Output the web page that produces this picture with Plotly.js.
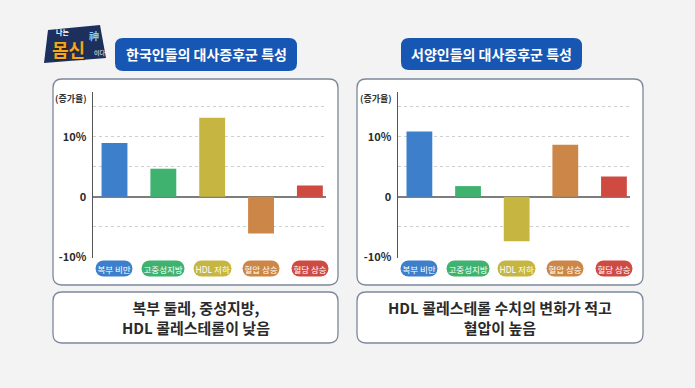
<!DOCTYPE html>
<html><head><meta charset="utf-8">
<script src="https://cdn.plot.ly/plotly-3.0.1.min.js"></script>
<style>html,body{margin:0;padding:0;background:#f3f3f3}</style>
</head><body><div id="chart" style="width:695px;height:388px"></div>
<script>
// ---- data ----
const categories = ['복부 비만', '고중성지방', 'HDL 저하', '혈압 상승', '혈당 상승'];
const koreanValues = [9.0, 4.7, 13.2, -6.1, 1.9];
const westernValues = [10.9, 1.8, -7.4, 8.7, 3.4];
const barColors = ['#3d7fcb', '#3fb26f', '#c6b540', '#cc8647', '#cf4b42'];
const yTickVals = [-10, 0, 10];
const yTickText = ['-10%', '0', '10%'];
const gridVals = [-5, 5, 10, 15];
const panelTitles = ['한국인들의 대사증후군 특성', '서양인들의 대사증후군 특성'];
const panelNotes = ['복부 둘레, 중성지방,<br>HDL 콜레스테롤이 낮음', 'HDL 콜레스테롤 수치의 변화가 적고<br>혈압이 높음'];
const yUnitLabel = '(증가율)';

// ---- layout helpers ----
const W = 695, H = 388;
const FONT = '"Noto Sans CJK KR", "Noto Sans", sans-serif';
const X = p => p / W, Y = p => 1 - p / H;
function rr(x0, y0, x1, y1, r) {
  return `M${X(x0 + r)},${Y(y0)} L${X(x1 - r)},${Y(y0)} Q${X(x1)},${Y(y0)} ${X(x1)},${Y(y0 + r)} ` +
    `L${X(x1)},${Y(y1 - r)} Q${X(x1)},${Y(y1)} ${X(x1 - r)},${Y(y1)} L${X(x0 + r)},${Y(y1)} ` +
    `Q${X(x0)},${Y(y1)} ${X(x0)},${Y(y1 - r)} L${X(x0)},${Y(y0 + r)} Q${X(x0)},${Y(y0)} ${X(x0 + r)},${Y(y0)} Z`;
}
function boxShape(x0, y0, x1, y1, r, fill, line, lw) {
  return { type: 'path', xref: 'paper', yref: 'paper', layer: 'below', path: rr(x0, y0, x1, y1, r),
    fillcolor: fill, line: { color: line, width: lw } };
}
function logoText(px, py, text, size, color, extra) {
  return Object.assign({ xref: 'paper', yref: 'paper', x: X(px), y: Y(py), xanchor: 'center', yanchor: 'middle',
    text, showarrow: false, borderpad: 0, font: { family: FONT, size, color } }, extra || {});
}

const panels = [
  { box: [53, 79, 338, 285], note: [53, 292, 338, 343], title: [115, 38, 297, 71], dom: [93, 326], vals: koreanValues, xa: 'x', ya: 'y' },
  { box: [357, 79, 643, 285], note: [357, 292, 643, 343], title: [401, 38, 582, 70], dom: [398, 630], vals: westernValues, xa: 'x2', ya: 'y2' }
];
const yDom = [Y(258), Y(92)];

const traces = panels.map(p => ({
  type: 'bar', x: categories, y: p.vals, xaxis: p.xa, yaxis: p.ya,
  marker: { color: barColors, line: { width: 0 } }, hoverinfo: 'skip', showlegend: false
}));

const shapes = [];
const annotations = [];
panels.forEach((p, i) => {
  shapes.push(boxShape(...p.box, 9, '#ffffff', '#7c889c', 1.3));
  shapes.push(boxShape(...p.note, 9, '#ffffff', '#7c889c', 1.3));
  shapes.push(boxShape(...p.title, 8, '#1856b3', 'rgba(0,0,0,0)', 0));
  annotations.push({ xref: 'paper', yref: 'paper', x: X((p.title[0] + p.title[2]) / 2), y: Y((p.title[1] + p.title[3]) / 2),
    text: '<b>' + panelTitles[i] + '</b>', showarrow: false, xanchor: 'center', yanchor: 'middle',
    font: { family: FONT, size: 14, color: '#ffffff' } });
  annotations.push({ xref: 'paper', yref: 'paper', x: X((p.note[0] + p.note[2]) / 2), y: Y((p.note[1] + p.note[3]) / 2),
    text: '<b>' + panelNotes[i] + '</b>', showarrow: false, xanchor: 'center', yanchor: 'middle', align: 'center',
    font: { family: FONT, size: 15, color: '#2a2a2a' } });
  const xd = p.xa === 'x' ? 'x domain' : 'x2 domain';
  const yd = p.ya === 'y' ? 'y domain' : 'y2 domain';
  annotations.push({ xref: xd, yref: yd, x: 0, y: 1, xanchor: 'right', yanchor: 'middle', xshift: -4, yshift: -6,
    text: yUnitLabel, showarrow: false, font: { family: FONT, size: 9, color: '#333', weight: 'bold' } });
  categories.forEach((c, k) => {
    annotations.push({ xref: p.xa, yref: yd, x: c, y: 0, yshift: -10, xanchor: 'center', yanchor: 'middle',
      text: c, showarrow: false, bgcolor: barColors[k], borderpad: 1.5,
      font: { family: FONT, size: 8.5, color: '#ffffff' }, name: 'pill' });
  });
});

// logo
shapes.push({ type: 'path', xref: 'paper', yref: 'paper', layer: 'below',
  path: `M${X(48)},${Y(30)} L${X(100)},${Y(25)} L${X(106)},${Y(58)} L${X(44)},${Y(63)} Z`,
  fillcolor: '#1d2f5c', line: { width: 0 } });
annotations.push(logoText(68, 49, '<b>몸신</b>', 18, '#f2a623', { font: { family: FONT, size: 18, color: '#f2a623', shadow: '1px 1px 1px #3a2000' } }));
annotations.push(logoText(62, 32, '<b>나는</b>', 7, '#ffffff'));
annotations.push(logoText(94, 35, '<b>神</b>', 10, '#7fd0ff'));
annotations.push(logoText(100, 53, '이다', 6, '#ffffff'));

function xAxis(i) {
  return { domain: [X(panels[i].dom[0]), X(panels[i].dom[1])], anchor: i ? 'y2' : 'y', type: 'category',
    range: [-0.44, 4.33], showticklabels: false, showgrid: false, zeroline: false, showline: false, ticks: '', fixedrange: true };
}
function yAxis(i) {
  return { domain: yDom, anchor: i ? 'x2' : 'x', range: [-10.2, 17.5], tickvals: yTickVals, ticktext: yTickText,
    showgrid: false, zeroline: true, zerolinecolor: '#7d7d7d', zerolinewidth: 1.5,
    showline: true, linecolor: '#555', linewidth: 1.5, ticks: '', ticklabelstandoff: 3,
    tickfont: { family: FONT, size: 11, color: '#2a2a2a', weight: 'bold' },
    minor: { tickvals: gridVals, showgrid: true, gridcolor: '#cfcfcf', griddash: '3px,3px', gridwidth: 1, ticks: '' },
    fixedrange: true };
}

const layout = {
  width: W, height: H, margin: { l: 0, r: 0, t: 0, b: 0 },
  paper_bgcolor: '#f3f3f3', plot_bgcolor: 'rgba(0,0,0,0)',
  bargap: 0.47, showlegend: false,
  xaxis: xAxis(0), xaxis2: xAxis(1), yaxis: yAxis(0), yaxis2: yAxis(1),
  shapes, annotations, font: { family: FONT }
};

Plotly.newPlot('chart', traces, layout, { staticPlot: true, displayModeBar: false }).then(gd => {
  gd._fullLayout.annotations.forEach((a, idx) => {
    if (a.name === 'pill') {
      const r = document.querySelector(`.annotation[data-index="${idx}"] rect.bg`);
      if (r) {
        const h = parseFloat(r.getAttribute('height')) || 12;
        r.setAttribute('rx', h / 2); r.setAttribute('ry', h / 2);
      }
    }
  });
});
</script>
</body></html>
